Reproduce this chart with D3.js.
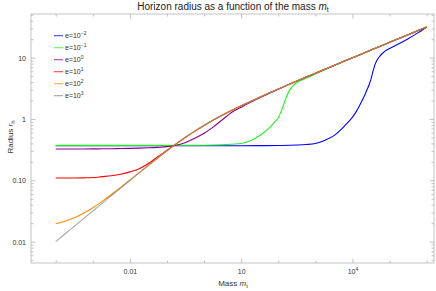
<!DOCTYPE html>
<html><head><meta charset="utf-8">
<script src="https://cdn.jsdelivr.net/npm/d3@7/dist/d3.min.js"></script>
<style>
body{margin:0;background:#fff}
svg{display:block}
text{font-family:"Liberation Sans",Arial,sans-serif;fill:#333}
</style>
</head><body><svg id="c" width="436" height="291"></svg>
<script>
// ---- data ----
// common mass grid (quarter decades, 1e-4 .. 1e6)
const masses = [0.0001,0.000178,0.000316,0.000562,0.001,0.00178,0.00316,0.00562,0.01,0.0178,0.0316,0.0562,0.1,0.178,0.316,0.562,1,1.78,3.16,5.62,10,17.8,31.6,56.2,100,178,316,562,1000,1780,3160,5620,10000,17800,31600,56200,100000,178000,316000,562000,1000000];

// e = 10^-2 (blue): own, finer mass grid around the jump
const mE_m2 = [0.0001,0.001,0.01,0.1,1,10,31.6,100,316,562,1000,1780,3160,5620,7943,10000,12589,15849,19953,25119,28184,31623,35481,39811,46774,56234,64565,74989,100000,178000,316000,562000,1000000];
const rE_m2 = [0.367,0.367,0.367,0.367,0.367,0.367,0.368,0.370,0.376,0.383,0.398,0.447,0.535,0.733,0.912,1.07,1.318,1.70,2.24,3.09,3.65,4.50,5.90,7.50,9.30,10.8,11.8,12.8,14.1,16.8,20.4,25.1,31.3];

// e = 10^-1 (green)
const mE_m1 = [0.0001,0.001,0.01,0.1,1,3.16,10,17.8,31.6,56.2,79.4,100,125.9,158.5,199.5,251.2,316,562,1000,1780,3160,5620,10000,31600,100000,316000,1000000];
const rE_m1 = [0.372,0.372,0.372,0.372,0.374,0.381,0.398,0.4416,0.537,0.708,0.891,1.047,1.445,2.14,2.90,3.50,3.92,4.62,5.43,6.34,7.38,8.57,9.95,13.317,17.769,23.703,31.615];

// e = 10^0 (purple), e = 10^1 (red), e = 10^2 (orange), e = 10^3 (gray) on the common grid
const rE_0 = [0.324,0.324,0.3243,0.3248,0.3255,0.3265,0.328,0.330,0.332,0.335,0.339,0.345,0.354,0.373,0.413,0.485,0.585,0.745,0.98,1.29,1.56,1.87,2.22,2.615,3.065,3.575,4.158,4.819,5.579,6.455,7.466,8.631,9.975,11.526,13.317,15.383,17.769,20.523,23.703,27.375,31.615];
const rE_1 = [0.109,0.109,0.1092,0.1098,0.111,0.1148,0.119,0.126,0.1374,0.155,0.188,0.2427,0.309,0.394,0.5027,0.6336,0.7862,0.9613,1.1607,1.3869,1.6436,1.9356,2.2684,2.6487,3.0842,3.5839,4.1581,4.8186,5.5791,6.4554,7.4657,8.6308,9.975,11.526,13.317,15.383,17.769,20.523,23.703,27.375,31.615];
const rE_2 = [0.0196,0.0215,0.0245,0.0291,0.0358,0.0454,0.0586,0.0767,0.1010,0.1333,0.1760,0.2316,0.3030,0.3927,0.5026,0.6336,0.7862,0.9613,1.1607,1.3869,1.6436,1.9356,2.2684,2.6487,3.0842,3.5839,4.1581,4.8186,5.5791,6.4554,7.4657,8.6308,9.975,11.526,13.317,15.383,17.769,20.523,23.703,27.375,31.615];
const rE_3 = [0.0100,0.01333,0.01778,0.02371,0.03161,0.04213,0.05614,0.07478,0.0995,0.1322,0.1752,0.2311,0.3027,0.3925,0.5025,0.6335,0.7862,0.9613,1.1607,1.3869,1.6436,1.9356,2.2684,2.6487,3.0842,3.5839,4.1581,4.8186,5.5791,6.4554,7.4657,8.6308,9.975,11.526,13.317,15.383,17.769,20.523,23.703,27.375,31.615];

const seriesExp = ["\u22122","\u22121","0","1","2","3"];
const seriesMass = [mE_m2, mE_m1, masses, masses, masses, masses];
const seriesVals = [rE_m2, rE_m1, rE_0, rE_1, rE_2, rE_3];
const seriesColors = ["#0000ff","#22ee22","#8a008a","#ff0000","#ff8c00","#808080"];

const xMajor = [0.01, 10, 10000];
const xMajorLabels = [["0.01",""],["10",""],["10","4"]];
const xMinor = [0.0001,0.001,0.1,1,100,1000,100000,1000000];
const yMajor = [0.01,0.1,1,10];
const yMajorLabels = ["0.01","0.10","1","10"];

// ---- layout ----
const L=31, R=434, T=14, B=263;
const svg = d3.select("#c");
const x = d3.scaleLog().domain([Math.pow(10,-4.666), Math.pow(10,6.197)]).range([L,R]);
const y = d3.scaleLog().domain([Math.pow(10,-2.348), Math.pow(10,1.712)]).range([B,T]);

const yMinor = [];
[0.001,0.01,0.1,1,10].forEach(d=>{for(let k=2;k<=9;k++){const v=d*k; if(y(v)>=T && y(v)<=B) yMinor.push(v);}});

const frameCol = "#b4b4b4";
function axisStyle(g){ g.select(".domain").remove(); g.selectAll(".tick line").attr("stroke",frameCol).attr("stroke-width",0.8); }

// bottom
svg.append("g").attr("transform",`translate(0,${B})`).call(d3.axisBottom(x).tickValues(xMinor).tickSizeInner(-2.5).tickFormat("")).call(axisStyle);
const gb = svg.append("g").attr("transform",`translate(0,${B})`).call(d3.axisBottom(x).tickValues(xMajor).tickSizeInner(-4.5).tickFormat("")).call(axisStyle);
gb.selectAll(".tick").append("text").attr("y",10.5).attr("text-anchor","middle").style("font-size","7px")
  .each(function(d,i){ const t=d3.select(this); t.append("tspan").text(xMajorLabels[i][0]); if(xMajorLabels[i][1]) t.append("tspan").attr("dy",-3).style("font-size","5px").text(xMajorLabels[i][1]); });
// top
svg.append("g").attr("transform",`translate(0,${T})`).call(d3.axisTop(x).tickValues(xMinor).tickSizeInner(-2.5).tickFormat("")).call(axisStyle);
svg.append("g").attr("transform",`translate(0,${T})`).call(d3.axisTop(x).tickValues(xMajor).tickSizeInner(-4.5).tickFormat("")).call(axisStyle);
// left
svg.append("g").attr("transform",`translate(${L},0)`).call(d3.axisLeft(y).tickValues(yMinor).tickSizeInner(-2.5).tickFormat("")).call(axisStyle);
const gl = svg.append("g").attr("transform",`translate(${L},0)`).call(d3.axisLeft(y).tickValues(yMajor).tickSizeInner(-4.5).tickFormat("")).call(axisStyle);
gl.selectAll(".tick").append("text").attr("x",-5).attr("dy","0.35em").attr("text-anchor","end").style("font-size","7px").text((d,i)=>yMajorLabels[i]);
// right
svg.append("g").attr("transform",`translate(${R},0)`).call(d3.axisRight(y).tickValues(yMinor).tickSizeInner(-2.5).tickFormat("")).call(axisStyle);
svg.append("g").attr("transform",`translate(${R},0)`).call(d3.axisRight(y).tickValues(yMajor).tickSizeInner(-4.5).tickFormat("")).call(axisStyle);

// frame
svg.append("rect").attr("x",L).attr("y",T).attr("width",R-L).attr("height",B-T).attr("fill","none").attr("stroke",frameCol).attr("stroke-width",0.8);

// curves
const line = d3.line().x(d=>x(d[0])).y(d=>y(d[1])).curve(d3.curveMonotoneX);
svg.append("clipPath").attr("id","clp").append("rect").attr("x",L).attr("y",T).attr("width",R-L).attr("height",B-T);
const gc = svg.append("g").attr("clip-path","url(#clp)");
seriesVals.forEach((vals,i)=>{
  gc.append("path").datum(seriesMass[i].map((m,j)=>[m,vals[j]])).attr("d",line)
    .attr("fill","none").attr("stroke",seriesColors[i]).attr("stroke-width",1.1)
    .attr("stroke-opacity", i===5?0.7:1);
});

// legend
const lg = svg.append("g");
seriesExp.forEach((ex,i)=>{
  const yy = 35.7 + i*12;
  lg.append("line").attr("x1",54).attr("x2",63).attr("y1",yy).attr("y2",yy).attr("stroke",seriesColors[i]).attr("stroke-width",1.1).attr("stroke-opacity",0.75);
  const t = lg.append("text").attr("x",65).attr("y",yy+2.4).style("font-size","7px");
  t.append("tspan").text("e=10");
  t.append("tspan").attr("dy",-3).style("font-size","5px").text(ex);
});

// title
const tt = svg.append("text").attr("x",233).attr("y",10).attr("text-anchor","middle").style("font-size","10px").style("fill","#222");
tt.append("tspan").text("Horizon radius as a function of the mass ");
tt.append("tspan").style("font-style","italic").text("m");
tt.append("tspan").attr("dy",2).style("font-size","7px").text("t");

// x label
const xl = svg.append("text").attr("x",233).attr("y",286).attr("text-anchor","middle").style("font-size","8px");
xl.append("tspan").text("Mass  ");
xl.append("tspan").style("font-style","italic").text("m");
xl.append("tspan").attr("dy",1.8).style("font-size","6px").text("t");

// y label
const yl = svg.append("text").attr("transform","translate(13,137) rotate(-90)").attr("text-anchor","middle").style("font-size","8px");
yl.append("tspan").text("Radius  ");
yl.append("tspan").style("font-style","italic").text("r");
yl.append("tspan").attr("dy",1.8).style("font-size","6px").text("h");
</script>
</body></html>
